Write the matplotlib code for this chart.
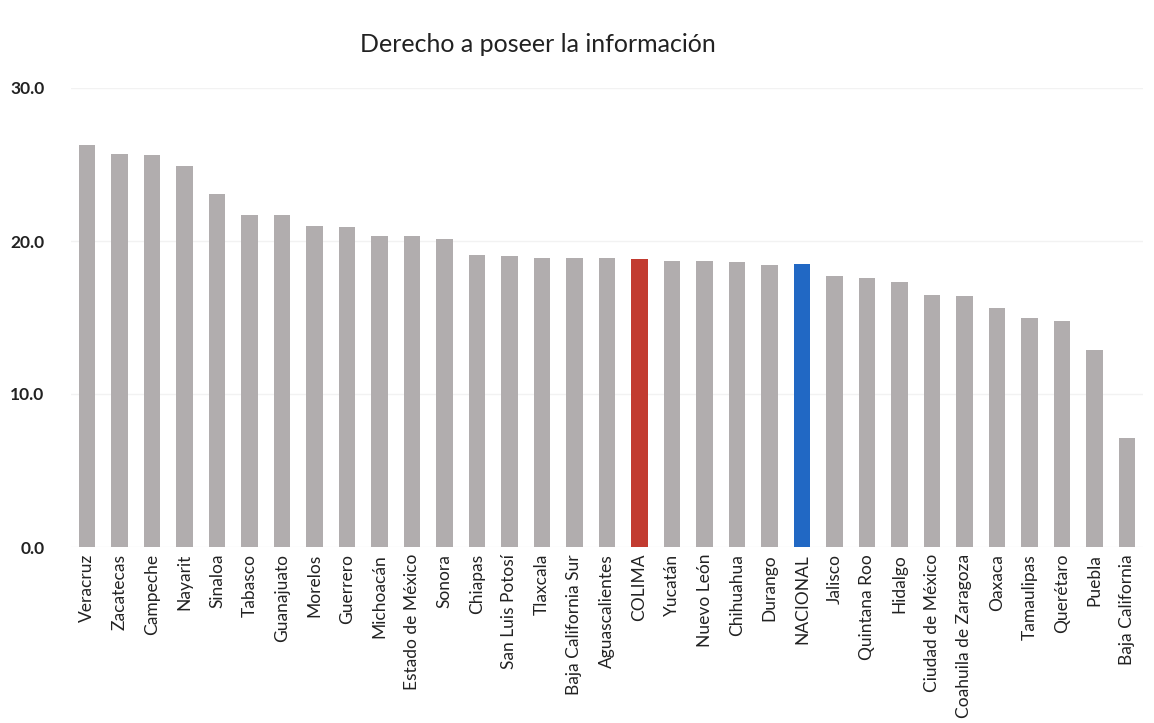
# Derecho a poseer la información - bar chart by state
import matplotlib.pyplot as plt

FIG_W: float = 11.54
FIG_H: float = 7.23
FONT: str = "Lato"

states: list[str] = [
    "Veracruz", "Zacatecas", "Campeche", "Nayarit", "Sinaloa", "Tabasco",
    "Guanajuato", "Morelos", "Guerrero", "Michoacán", "Estado de México",
    "Sonora", "Chiapas", "San Luis Potosí", "Tlaxcala", "Baja California Sur",
    "Aguascalientes", "COLIMA", "Yucatán", "Nuevo León", "Chihuahua",
    "Durango", "NACIONAL", "Jalisco", "Quintana Roo", "Hidalgo",
    "Ciudad de México", "Coahuila de Zaragoza", "Oaxaca", "Tamaulipas",
    "Querétaro", "Puebla", "Baja California",
]
values: list[float] = [
    26.3, 25.7, 25.6, 24.9, 23.1, 21.7,
    21.7, 21.0, 20.9, 20.3, 20.3,
    20.1, 19.1, 19.0, 18.9, 18.9,
    18.9, 18.8, 18.7, 18.7, 18.6,
    18.4, 18.5, 17.7, 17.6, 17.3,
    16.5, 16.4, 15.6, 15.0,
    14.8, 12.9, 7.1,
]
y_ticks: list[float] = [0, 10, 20, 30]

GRAY = "#b1adae"
RED = "#c23b30"
BLUE = "#2168c4"
colors = [RED if s == "COLIMA" else BLUE if s == "NACIONAL" else GRAY for s in states]

plt.rcParams["font.family"] = [FONT, "DejaVu Sans"]
fig = plt.figure(figsize=(FIG_W, FIG_H), dpi=100)
ax = fig.add_axes([70.75 / 1154, 1 - 547 / 723, 1072.5 / 1154, (547 - 88) / 723])

x = list(range(len(states)))
ax.bar(x, values, width=0.52, color=colors, zorder=2)
ax.set_xlim(-0.5, len(states) - 0.5)
ax.set_ylim(0, 30)
ax.set_yticks(y_ticks)
ax.set_yticklabels([f"{v:.1f}" for v in y_ticks], fontsize=12.5, fontweight="bold", color="#222222")
ax.set_xticks(x)
ax.set_xticklabels(states, rotation=90, fontsize=12.5, color="#222222")
ax.tick_params(axis="both", length=0)
ax.tick_params(axis="y", pad=19)
ax.tick_params(axis="x", pad=5)
ax.grid(axis="y", color="#f2f2f2", linewidth=1, zorder=0)
for spine in ax.spines.values():
    spine.set_visible(False)

fig.text(0.466, 1 - 45 / 723, "Derecho a poseer la información", ha="center", va="center",
         fontsize=18, color="#222222")

fig.savefig("out.png", dpi=100)
